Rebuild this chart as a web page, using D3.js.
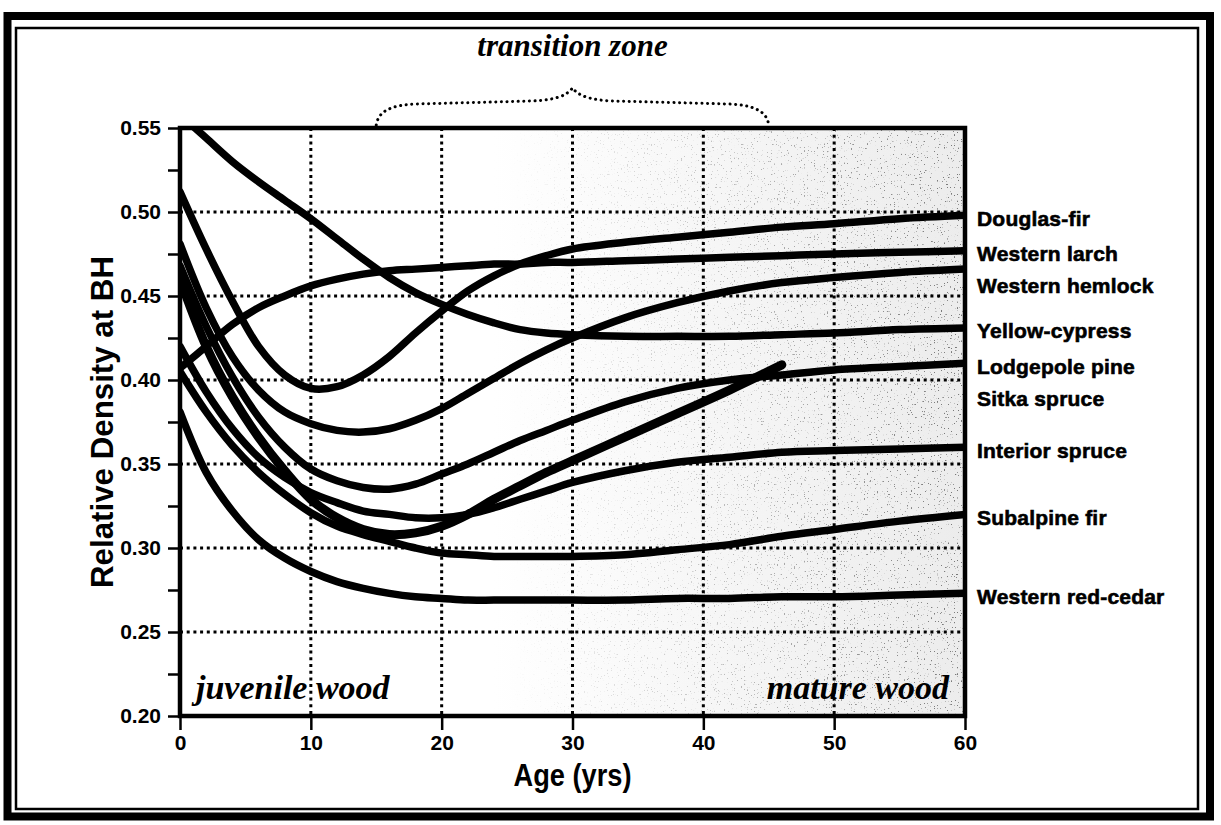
<!DOCTYPE html>
<html>
<head>
<meta charset="utf-8">
<script src="https://cdn.jsdelivr.net/npm/d3@7"></script>
<style>
  body { margin: 0; background: #fff; }
  svg { display: block; }
  .tick text { font-family: "Liberation Sans", Arial, sans-serif; font-weight: bold; font-size: 21px; fill: #000; }
</style>
</head>
<body>
<div id="chart"></div>
<script>
// ages (yrs) at which the curves were read
const ages = [0, 2, 4, 6, 8, 10, 12, 14, 16, 18, 20, 22, 24, 26, 28, 30, 34, 38, 42, 46, 50, 55, 60];

const douglasFir = [0.512, 0.478, 0.447, 0.420, 0.403, 0.395, 0.396, 0.403, 0.414, 0.428, 0.441, 0.453, 0.462, 0.469, 0.474, 0.478, 0.482, 0.485, 0.488, 0.491, 0.493, 0.496, 0.498];
const westernLarch = [0.407, 0.420, 0.433, 0.443, 0.450, 0.456, 0.460, 0.463, 0.465, 0.466, 0.467, 0.468, 0.469, 0.469, 0.470, 0.470, 0.471, 0.472, 0.473, 0.474, 0.475, 0.476, 0.477];
const westernHemlock = [0.481, 0.443, 0.414, 0.394, 0.381, 0.374, 0.370, 0.369, 0.371, 0.376, 0.383, 0.392, 0.401, 0.410, 0.418, 0.425, 0.437, 0.446, 0.453, 0.458, 0.461, 0.464, 0.466];
const yellowCypress = [0.558, 0.544, 0.530, 0.518, 0.507, 0.496, 0.484, 0.472, 0.461, 0.452, 0.445, 0.439, 0.434, 0.430, 0.428, 0.427, 0.426, 0.426, 0.426, 0.427, 0.428, 0.430, 0.431];
const lodgepolePine = [0.468, 0.432, 0.402, 0.378, 0.360, 0.347, 0.340, 0.336, 0.335, 0.338, 0.344, 0.350, 0.357, 0.364, 0.370, 0.376, 0.387, 0.395, 0.400, 0.403, 0.406, 0.408, 0.410];
const sitkaSpruce = [0.460, 0.420, 0.390, 0.366, 0.346, 0.329, 0.318, 0.311, 0.308, 0.309, 0.313, 0.320, 0.329, 0.337, 0.345, 0.352, 0.366, 0.380, 0.394, 0.409, null, null, null];
const interiorSpruce = [0.420, 0.393, 0.371, 0.354, 0.342, 0.333, 0.327, 0.322, 0.320, 0.318, 0.318, 0.320, 0.324, 0.329, 0.334, 0.339, 0.346, 0.351, 0.354, 0.357, 0.358, 0.359, 0.360];
const subalpineFir = [0.405, 0.381, 0.361, 0.345, 0.332, 0.321, 0.313, 0.308, 0.304, 0.300, 0.297, 0.296, 0.295, 0.295, 0.295, 0.295, 0.296, 0.299, 0.302, 0.307, 0.311, 0.316, 0.320];
const westernRedCedar = [0.381, 0.345, 0.322, 0.305, 0.294, 0.286, 0.280, 0.276, 0.273, 0.271, 0.270, 0.269, 0.269, 0.269, 0.269, 0.269, 0.269, 0.270, 0.270, 0.271, 0.271, 0.272, 0.273];

const speciesNames = ["Douglas-fir", "Western larch", "Western hemlock", "Yellow-cypress", "Lodgepole pine", "Sitka spruce", "Interior spruce", "Subalpine fir", "Western red-cedar"];
const speciesValues = [douglasFir, westernLarch, westernHemlock, yellowCypress, lodgepolePine, sitkaSpruce, interiorSpruce, subalpineFir, westernRedCedar];

const xTicks = [0, 10, 20, 30, 40, 50, 60];
const yTicks = [0.20, 0.225, 0.25, 0.275, 0.30, 0.325, 0.35, 0.375, 0.40, 0.425, 0.45, 0.475, 0.50, 0.525, 0.55];
const yGrid = [0.25, 0.30, 0.35, 0.40, 0.45, 0.50];
const xGrid = [10, 20, 30, 40, 50];

const width = 1221, height = 825;
const plot = { left: 180, right: 965, top: 128, bottom: 716 };

const svg = d3.select("#chart").append("svg")
  .attr("width", width)
  .attr("height", height);

const x = d3.scaleLinear().domain([0, 60]).range([plot.left, plot.right]);
const y = d3.scaleLinear().domain([0.20, 0.55]).range([plot.bottom, plot.top]);

const defs = svg.append("defs");

defs.append("clipPath").attr("id", "plotclip")
  .append("rect")
  .attr("x", plot.left).attr("y", plot.top)
  .attr("width", plot.right - plot.left).attr("height", plot.bottom - plot.top);

// mature wood shading, grows darker to the right
let grad = defs.append("linearGradient")
  .attr("id", "shade")
  .attr("gradientUnits", "userSpaceOnUse")
  .attr("x1", x(24)).attr("x2", x(60)).attr("y1", 0).attr("y2", 0);
grad.append("stop").attr("offset", 0).attr("stop-color", "#fff");
grad.append("stop").attr("offset", 1).attr("stop-color", "#ececec");

let maskGrad = defs.append("linearGradient")
  .attr("id", "maskgrad")
  .attr("gradientUnits", "userSpaceOnUse")
  .attr("x1", x(25)).attr("x2", x(60)).attr("y1", 0).attr("y2", 0);
maskGrad.append("stop").attr("offset", 0).attr("stop-color", "#000");
maskGrad.append("stop").attr("offset", 1).attr("stop-color", "#fff");

defs.append("mask").attr("id", "specklemask")
  .append("rect")
  .attr("x", plot.left).attr("y", plot.top)
  .attr("width", plot.right - plot.left).attr("height", plot.bottom - plot.top)
  .attr("fill", "url(#maskgrad)");

let filter = defs.append("filter").attr("id", "speckle")
  .attr("x", 0).attr("y", 0).attr("width", 1).attr("height", 1);
filter.append("feTurbulence")
  .attr("type", "fractalNoise")
  .attr("baseFrequency", 0.7)
  .attr("numOctaves", 1)
  .attr("seed", 7);
filter.append("feColorMatrix")
  .attr("type", "matrix")
  .attr("values", "0 0 0 0 0  0 0 0 0 0  0 0 0 0 0  16 0 0 0 -10.5");

// outer double frame
svg.append("rect")
  .attr("x", 7.5).attr("y", 16)
  .attr("width", 1202.5).attr("height", 800.5)
  .attr("fill", "none").attr("stroke", "#000").attr("stroke-width", 8);
svg.append("rect")
  .attr("x", 16).attr("y", 28)
  .attr("width", 1182).attr("height", 781)
  .attr("fill", "none").attr("stroke", "#000").attr("stroke-width", 2.5);

// shading
svg.append("rect")
  .attr("x", plot.left).attr("y", plot.top)
  .attr("width", plot.right - plot.left).attr("height", plot.bottom - plot.top)
  .attr("fill", "url(#shade)");
svg.append("rect")
  .attr("x", plot.left).attr("y", plot.top)
  .attr("width", plot.right - plot.left).attr("height", plot.bottom - plot.top)
  .attr("filter", "url(#speckle)")
  .attr("mask", "url(#specklemask)")
  .attr("opacity", 0.5);

// dotted grid
let grid = svg.append("g")
  .attr("stroke", "#000")
  .attr("stroke-width", 3)
  .attr("stroke-dasharray", "3,3.7");
grid.selectAll(".gy")
  .data(yGrid)
  .join("line")
  .attr("x1", plot.left).attr("x2", plot.right)
  .attr("y1", d => y(d)).attr("y2", d => y(d));
grid.selectAll(".gx")
  .data(xGrid)
  .join("line")
  .attr("x1", d => x(d)).attr("x2", d => x(d))
  .attr("y1", plot.top).attr("y2", plot.bottom);

// species curves
let line = d3.line()
  .defined(d => d[1] != null)
  .x(d => x(d[0]))
  .y(d => y(d[1]))
  .curve(d3.curveCatmullRom.alpha(0.5));

let series = speciesNames.map((name, i) => ({
  name: name,
  points: ages.map((a, j) => [a, speciesValues[i][j]])
}));

svg.append("g")
  .attr("clip-path", "url(#plotclip)")
  .selectAll("path")
  .data(series)
  .join("path")
  .attr("d", d => line(d.points))
  .attr("fill", "none")
  .attr("stroke", "#000")
  .attr("stroke-width", d => d.name == "Sitka spruce" ? 9 : 7.5)
  .attr("stroke-linecap", "round")
  .attr("stroke-linejoin", "round");

// axes
let yAxis = svg.append("g")
  .attr("transform", `translate(${plot.left},0)`)
  .call(d3.axisLeft(y)
    .tickValues(yTicks)
    .tickSize(12)
    .tickPadding(7)
    .tickFormat(d => Math.round(d * 1000) % 50 == 0 ? d3.format(".2f")(d) : ""));
yAxis.select(".domain").remove();
yAxis.selectAll(".tick line").attr("stroke-width", 2.5);

let xAxis = svg.append("g")
  .attr("transform", `translate(0,${plot.bottom})`)
  .call(d3.axisBottom(x)
    .tickValues(xTicks)
    .tickSize(14)
    .tickPadding(5)
    .tickFormat(d3.format("d")));
xAxis.select(".domain").remove();
xAxis.selectAll(".tick line").attr("stroke-width", 2.5);

// plot frame
svg.append("rect")
  .attr("x", plot.left).attr("y", plot.top)
  .attr("width", plot.right - plot.left).attr("height", plot.bottom - plot.top)
  .attr("fill", "none").attr("stroke", "#000").attr("stroke-width", 4.5);

// species labels at the right end of the curves, spread so they don't collide
let labels = series.map(s => {
  let last = s.points.filter(p => p[1] != null).pop();
  return { name: s.name, y: y(last[1]) };
});
labels.sort((a, b) => a.y - b.y);
for (let k = 1; k < labels.length; k++) {
  if (labels[k].y - labels[k - 1].y < 32) labels[k].y = labels[k - 1].y + 32;
}
svg.append("g")
  .selectAll("text")
  .data(labels)
  .join("text")
  .attr("x", 977)
  .attr("y", d => d.y + 3)
  .attr("dy", "0.36em")
  .attr("font-family", "'Liberation Sans', Arial, sans-serif")
  .attr("font-weight", "bold")
  .attr("font-size", 21)
  .attr("stroke", "#000")
  .attr("stroke-width", 0.6)
  .attr("letter-spacing", 0.2)
  .text(d => d.name);

// transition zone brace
let L = x(15), R = x(45), C = x(30), t = plot.top - 3;
let brace = d3.path();
brace.moveTo(L, t);
brace.bezierCurveTo(L + 2, t - 14, L + 15, t - 20, L + 40, t - 21);
brace.lineTo(C - 40, t - 24);
brace.bezierCurveTo(C - 18, t - 25, C - 6, t - 29, C, t - 37);
brace.bezierCurveTo(C + 6, t - 29, C + 18, t - 25, C + 40, t - 24);
brace.lineTo(R - 40, t - 21);
brace.bezierCurveTo(R - 15, t - 20, R - 2, t - 14, R, t);
svg.append("path")
  .attr("d", brace.toString())
  .attr("fill", "none")
  .attr("stroke", "#000")
  .attr("stroke-width", 3)
  .attr("stroke-linecap", "round")
  .attr("stroke-dasharray", "0.1,5.5");

svg.append("text")
  .attr("x", C).attr("y", 56)
  .attr("text-anchor", "middle")
  .attr("font-family", "'Liberation Serif', 'Times New Roman', serif")
  .attr("font-style", "italic")
  .attr("font-weight", "bold")
  .attr("font-size", 31)
  .text("transition zone");

// wood zone labels
svg.append("text")
  .attr("x", x(0) + 16).attr("y", plot.bottom - 17)
  .attr("font-family", "'Liberation Serif', 'Times New Roman', serif")
  .attr("font-style", "italic")
  .attr("font-weight", "bold")
  .attr("font-size", 34)
  .text("juvenile wood");

svg.append("text")
  .attr("x", x(60) - 16).attr("y", plot.bottom - 17)
  .attr("text-anchor", "end")
  .attr("font-family", "'Liberation Serif', 'Times New Roman', serif")
  .attr("font-style", "italic")
  .attr("font-weight", "bold")
  .attr("font-size", 34)
  .text("mature wood");

// axis titles
svg.append("text")
  .attr("transform", `translate(113,${(plot.top + plot.bottom) / 2}) rotate(-90)`)
  .attr("text-anchor", "middle")
  .attr("font-family", "'Liberation Sans', Arial, sans-serif")
  .attr("font-weight", "bold")
  .attr("font-size", 31)
  .attr("textLength", 332)
  .attr("lengthAdjust", "spacingAndGlyphs")
  .text("Relative Density at BH");

svg.append("text")
  .attr("x", x(30)).attr("y", 786)
  .attr("text-anchor", "middle")
  .attr("font-family", "'Liberation Sans', Arial, sans-serif")
  .attr("font-weight", "bold")
  .attr("font-size", 32)
  .attr("textLength", 118)
  .attr("lengthAdjust", "spacingAndGlyphs")
  .text("Age (yrs)");
</script>
</body>
</html>
